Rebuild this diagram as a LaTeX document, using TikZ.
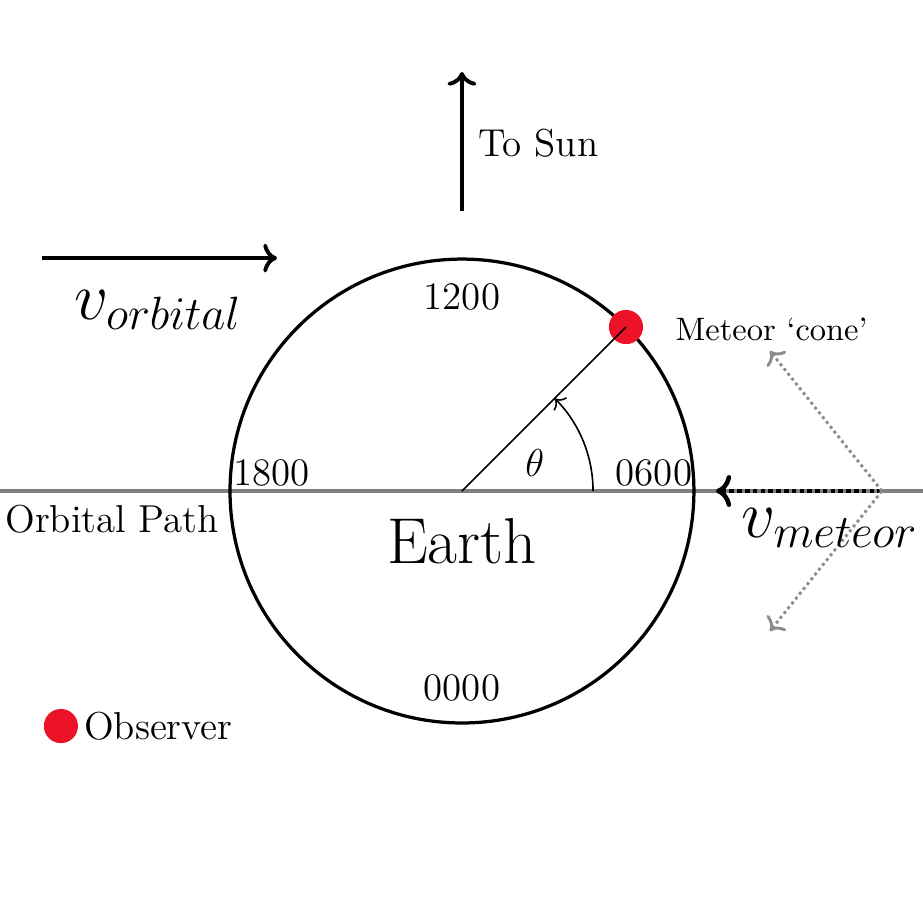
\documentclass[tikz,border=0pt]{standalone}
\usetikzlibrary{arrows.meta}
\definecolor{obsred}{RGB}{236,18,40}
\definecolor{pathgray}{RGB}{128,128,128}
\definecolor{conegray}{RGB}{140,140,140}
\begin{document}
\begin{tikzpicture}[
  lbl/.style={font=\fontsize{12}{14}\selectfont, inner sep=0pt},
  smalllbl/.style={font=\fontsize{10}{12}\selectfont, inner sep=0pt},
  biglbl/.style={font=\fontsize{20}{24}\selectfont, inner sep=0pt},
  dotnode/.style={circle, fill=obsred, draw=none, minimum size=0.37cm, inner sep=0pt},
  bigarrow/.style={line width=1.2pt, ->},
  metarrow/.style={line width=1.4pt, densely dotted, ->},
  conearrow/.style={line width=0.9pt, densely dotted, conegray, ->},
]
\useasboundingbox (-5.005,-4.68) rectangle (4.995,5.32);

% orbital path line
\coordinate (pathL) at (-5.005,0);
\coordinate (pathR) at (4.995,0);
\draw[pathgray, line width=1pt] (pathL) -- (pathR);

% Earth
\coordinate (O) at (0,0);
\node[circle, draw, line width=1pt, minimum size=5.026cm, inner sep=0pt] (earth) at (O) {};
\node[font=\fontsize{20}{24}\selectfont, inner sep=0pt] (earthlbl) at (0,-0.54) {Earth};

% time labels
\node[lbl] (t1200) at (0,2.10) {1200};
\node[lbl] (t0000) at (0,-2.134) {0000};
\node[lbl] (t0600) at (2.08,0.195) {0600};
\node[lbl] (t1800) at (-2.06,0.195) {1800};

% observer on Earth
\node[dotnode] (obs) at (45:2.513) {};
\draw[line width=0.5pt] (O) -- (obs.center);
\draw[line width=0.5pt, ->] (1.42,0) arc[start angle=0, end angle=45, radius=1.42];
\node[lbl] (theta) at (0.79,0.30) {$\theta$};

% To Sun
\coordinate (sunS) at (0,3.034);
\coordinate (sunE) at (0,4.54);
\draw[bigarrow] (sunS) -- (sunE);
\node[lbl, anchor=west] (tosun) at (0.173,3.77) {To Sun};

% orbital velocity
\coordinate (orbS) at (-4.55,2.524);
\coordinate (orbE) at (-2.004,2.524);
\draw[bigarrow] (orbS) -- (orbE);
\node[biglbl] (vorb) at (-3.293,1.96) {$v_{orbital}$};

% meteor
\coordinate (apex) at (4.55,0);
\coordinate (metE) at (2.752,0);
\coordinate (coneU) at (3.337,1.517);
\coordinate (coneD) at (3.337,-1.517);
\draw[metarrow] (apex) -- (metE);
\draw[conearrow] (apex) -- (coneU);
\draw[conearrow] (apex) -- (coneD);
\node[biglbl] (vmet) at (3.987,-0.401) {$v_{meteor}$};
\node[smalllbl, anchor=west] (cone) at (2.308,1.755) {Meteor `cone'};

% labels
\node[lbl] (orbpath) at (-3.79,-0.303) {Orbital Path};
\node[dotnode] (legdot) at (-4.345,-2.546) {};
\node[lbl, anchor=west] (legtxt) at (-4.10,-2.546) {Observer};
\end{tikzpicture}
\end{document}
